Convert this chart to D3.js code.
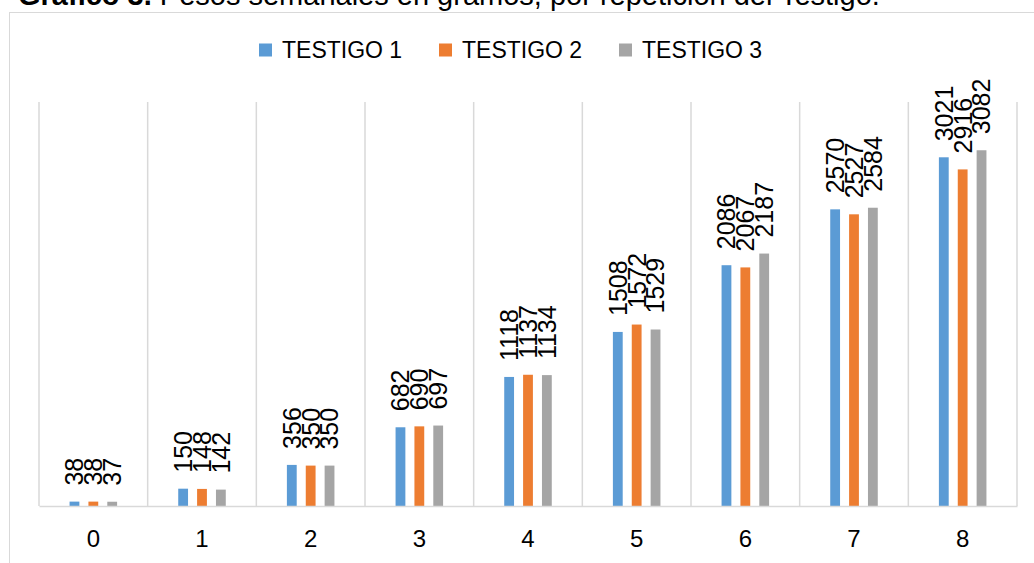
<!DOCTYPE html>
<html>
<head>
<meta charset="utf-8">
<script src="https://cdn.jsdelivr.net/npm/d3@7"></script>
<style>
  html, body { margin: 0; padding: 0; background: #fff; }
  svg { display: block; font-family: "Liberation Sans", Arial, sans-serif; }
</style>
</head>
<body>
<svg id="chart" width="1034" height="563"></svg>
<script>
// Weekly weights (grams) for each control repetition
const weeks = ["0", "1", "2", "3", "4", "5", "6", "7", "8"];
const seriesNames = ["TESTIGO 1", "TESTIGO 2", "TESTIGO 3"];
const testigo1 = [38, 150, 356, 682, 1118, 1508, 2086, 2570, 3021];
const testigo2 = [38, 148, 350, 690, 1137, 1572, 2067, 2527, 2916];
const testigo3 = [37, 142, 350, 697, 1134, 1529, 2187, 2584, 3082];
const colors = ["#5B9BD5", "#ED7D31", "#A5A5A5"];
const yMax = 3500;

const seriesValues = [testigo1, testigo2, testigo3];
const rows = weeks.map((w, i) => ({
  week: w,
  values: seriesNames.map((s, k) => ({ key: s, k, value: seriesValues[k][i] }))
}));

const svg = d3.select("#chart");
const plot = { left: 39, right: 1017, top: 102, bottom: 506 };
const labelSize = 25;
const axisSize = 24;
const legendSize = 23;

// Title (partly above the top edge of the page)
svg.append("text")
  .attr("x", 18).attr("y", 5)
  .attr("font-size", 29)
  .attr("fill", "#000")
  .call(t => {
    t.append("tspan").attr("font-weight", "bold").text("Gráfico 3.");
    t.append("tspan").text(" Pesos semanales en gramos, por repetición del Testigo.");
  });

// Chart frame
svg.append("rect")
  .attr("x", 9.5).attr("y", 12.5)
  .attr("width", 1040).attr("height", 600)
  .attr("fill", "none")
  .attr("stroke", "#d9d9d9")
  .attr("stroke-width", 1);

const x0 = d3.scaleBand()
  .domain(weeks)
  .range([plot.left, plot.right])
  .paddingInner(0).paddingOuter(0);

const x1 = d3.scaleBand()
  .domain(seriesNames)
  .range([0, x0.bandwidth()])
  .paddingInner(0.48).paddingOuter(1.62);

const y = d3.scaleLinear().domain([0, yMax]).range([plot.bottom, plot.top]);

// Vertical category gridlines
const gridX = weeks.map(w => x0(w)).concat([plot.right]);
svg.append("g").selectAll("line")
  .data(gridX)
  .join("line")
  .attr("x1", d => d).attr("x2", d => d)
  .attr("y1", y(yMax)).attr("y2", plot.bottom)
  .attr("stroke", "#d9d9d9")
  .attr("stroke-width", 1.5);

// Bars
const groups = svg.append("g").selectAll("g")
  .data(rows)
  .join("g")
  .attr("transform", d => `translate(${x0(d.week)},0)`);

groups.selectAll("rect")
  .data(d => d.values)
  .join("rect")
  .attr("x", d => x1(d.key))
  .attr("width", x1.bandwidth())
  .attr("y", d => y(d.value))
  .attr("height", d => y(0) - y(d.value))
  .attr("fill", d => colors[d.k]);

// Rotated value labels, centred over each bar
groups.selectAll("text")
  .data(d => d.values)
  .join("text")
  .attr("transform", d => `translate(${x1(d.key) + x1.bandwidth() / 2 + labelSize * 0.358},${y(d.value) - 16}) rotate(-90)`)
  .attr("font-size", labelSize)
  .attr("fill", "#000")
  .text(d => d.value);

// Category axis
const xAxis = svg.append("g")
  .attr("transform", `translate(0,${plot.bottom})`)
  .call(d3.axisBottom(x0).tickSize(0).tickPadding(24));
xAxis.select(".domain")
  .attr("stroke", "#d9d9d9")
  .attr("stroke-width", 1.5);
xAxis.selectAll("text")
  .attr("font-size", axisSize)
  .attr("font-family", "Liberation Sans, Arial, sans-serif")
  .attr("fill", "#000");

// Legend
const legendX = [259, 439, 619];
const legend = svg.append("g").selectAll("g")
  .data(seriesNames)
  .join("g")
  .attr("transform", (d, i) => `translate(${legendX[i]},50)`);
legend.append("rect")
  .attr("x", 0).attr("y", -6.5)
  .attr("width", 13).attr("height", 13)
  .attr("fill", (d, i) => colors[i]);
legend.append("text")
  .attr("x", 23).attr("y", 8)
  .attr("font-size", legendSize)
  .attr("fill", "#000")
  .text(d => d);
</script>
</body>
</html>
